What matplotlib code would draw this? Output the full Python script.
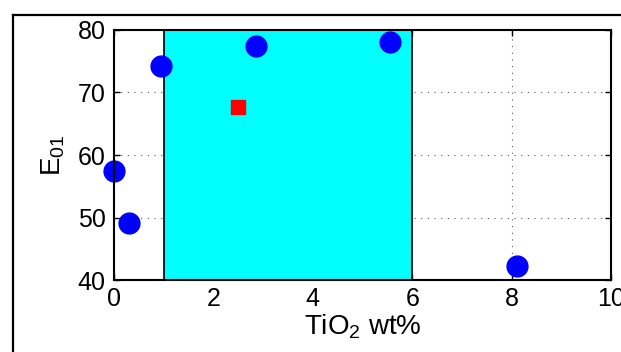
import matplotlib
matplotlib.use("Agg")
import matplotlib.pyplot as plt
from matplotlib.lines import Line2D

# data
tio2 = [0.0, 0.3, 0.95, 2.85, 5.55, 8.1]
e01 = [57.5, 49.2, 74.2, 77.5, 78.0, 42.3]
sq_x = [2.5]
sq_y = [67.7]
band = [1, 6]
xticks = [0, 2, 4, 6, 8, 10]
yticks = [40, 50, 60, 70, 80]

plt.rcParams['font.family'] = ['Liberation Sans', 'DejaVu Sans']
plt.rcParams['mathtext.fontset'] = 'custom'
plt.rcParams['mathtext.rm'] = 'Liberation Sans'
plt.rcParams['mathtext.it'] = 'Liberation Sans'

fig = plt.figure(figsize=(6.21, 3.52), dpi=100)
ax = fig.add_axes([0.1836, 0.2045, 0.8004, 0.7103])

ax.grid(True, linestyle=(0, (1, 5)), color='#555555', linewidth=0.8)
ax.axvspan(band[0], band[1], facecolor='#00ffff', edgecolor='black',
           linewidth=1.2, zorder=2)
ax.plot(tio2, e01, 'o', color='blue', markersize=15, zorder=3, clip_on=False)
ax.plot(sq_x, sq_y, 's', color='red', markersize=10, zorder=3)

ax.set_xlim(0, 10)
ax.set_ylim(40, 80)
ax.set_xticks(xticks)
ax.set_yticks(yticks)
ax.tick_params(direction='in', top=True, right=True, labelsize=18,
               length=4, width=1)
ax.tick_params(axis='x', pad=5)
ax.tick_params(axis='y', pad=6)
for s in ax.spines.values():
    s.set_linewidth(1.5)
    s.set_zorder(4)

ax.set_xlabel('TiO$_2$ wt%', fontsize=20, labelpad=1)
ax.set_ylabel('E$_{01}$', fontsize=20, labelpad=8)

# frame of the original screenshot
fig.add_artist(Line2D([0.021, 1.0], [0.957, 0.957], color='black', linewidth=1.6))
fig.add_artist(Line2D([0.021, 0.021], [0.0, 0.957], color='black', linewidth=1.6))

fig.savefig("out.png", dpi=100)
